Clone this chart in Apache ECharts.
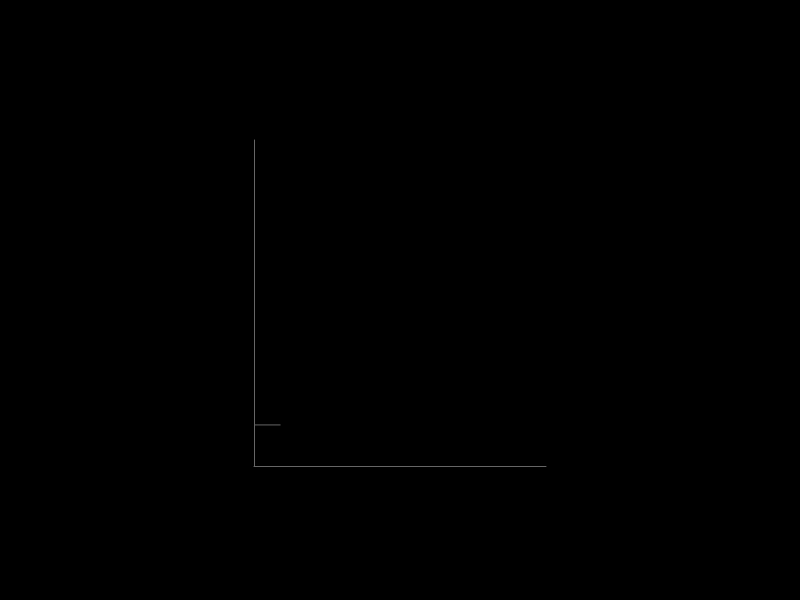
<!DOCTYPE html>
<html>
<head>
<meta charset="utf-8">
<script src="https://cdn.jsdelivr.net/npm/echarts@6/dist/echarts.min.js"></script>
<style>
  html, body { margin: 0; padding: 0; background: #000; }
  #main { width: 800px; height: 600px; }
</style>
</head>
<body>
<div id="main"></div>
<script>
// categories carry no visible labels in the picture
var categories = ['1', '2', '3', '4', '5', '6', '7', '8', '9', '10', '11', '12'];
var values = [12.6, 12.6, null, null, null, null, null, null, null, null, null, null];

var chart = echarts.init(document.getElementById('main'));

chart.setOption({
  backgroundColor: '#000',
  animation: false,
  grid: {
    left: 254,
    right: 254,
    top: 140,
    bottom: 134
  },
  xAxis: {
    type: 'category',
    boundaryGap: false,
    data: categories,
    axisLine: { show: true, lineStyle: { color: '#666', width: 1 } },
    axisTick: { show: false },
    axisLabel: { show: false },
    splitLine: { show: false }
  },
  yAxis: {
    type: 'value',
    min: 0,
    max: 100,
    axisLine: { show: true, lineStyle: { color: '#666', width: 1 } },
    axisTick: { show: false },
    axisLabel: { show: false },
    splitLine: { show: false }
  },
  series: [{
    type: 'line',
    data: values,
    showSymbol: false,
    connectNulls: false,
    lineStyle: { color: '#666', width: 1 }
  }]
});
</script>
</body>
</html>
